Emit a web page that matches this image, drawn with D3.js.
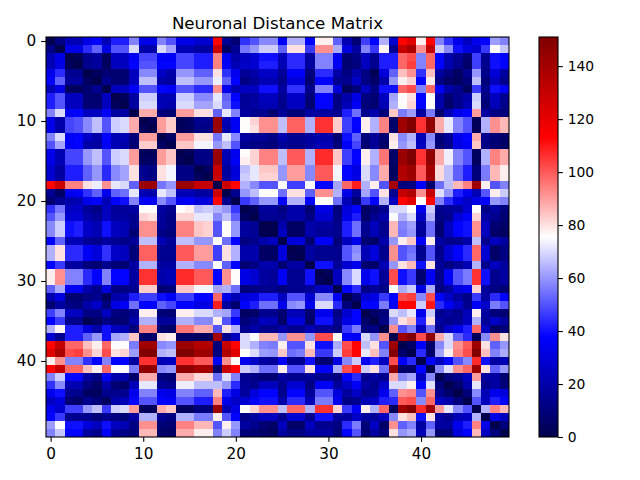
<!DOCTYPE html>
<html>
<head>
<meta charset="utf-8">
<script src="https://cdn.jsdelivr.net/npm/d3@7"></script>
<style>
  html, body { margin: 0; background: #fff; }
  text { font-family: "DejaVu Sans", sans-serif; fill: #000; }
</style>
</head>
<body>
<svg id="chart" width="640" height="480"></svg>
<script>
const title = "Neuronal Distance Matrix";
const axisTicks = [0, 10, 20, 30, 40];
const barTicks = [0, 20, 40, 60, 80, 100, 120, 140];
const barMax = 151;

// upper triangle of the matrix, each row starts on the diagonal
const upper = [
  [0,12,22,22,33,38,22,42,42,57,33,33,57,50,33,33,28,28,113,15,8,45,50,58,58,36,64,64,38,78,78,52,21,8,47,38,64,28,113,122,78,113,57,45,34,24,34,38,61,57],
  [0,32,32,44,52,32,50,50,70,20,20,70,62,22,22,18,18,128,5,15,55,60,68,68,52,80,80,46,92,92,63,31,18,57,46,77,15,130,138,92,130,68,58,40,31,28,46,75,67],
  [0,3,14,17,4,24,24,36,48,48,36,36,48,48,42,42,94,34,20,24,28,40,40,22,44,44,18,57,57,35,8,12,24,14,42,42,98,102,57,98,38,21,15,8,47,15,40,38],
  [0,14,17,4,24,24,38,50,50,38,38,48,48,42,42,94,36,22,26,28,42,42,22,44,44,18,57,57,35,8,10,24,14,42,42,98,104,57,98,38,21,14,6,47,14,40,38],
  [0,4,8,8,8,24,58,58,26,20,60,60,52,52,80,45,34,16,20,26,26,16,36,36,10,44,44,20,11,20,12,2,30,52,85,92,45,85,18,11,5,14,60,14,30,18],
  [0,14,8,8,24,66,66,20,18,66,66,60,60,73,52,38,12,16,22,22,14,30,30,8,38,38,14,14,26,12,6,20,60,78,82,38,78,12,6,4,10,66,10,24,14],
  [0,24,24,36,50,50,38,36,50,50,44,44,92,34,22,24,24,40,40,18,45,45,14,57,57,30,4,10,24,12,40,40,98,102,57,98,36,20,14,4,46,14,40,36],
  [0,3,18,68,68,22,22,68,68,58,58,72,52,38,16,18,24,24,15,26,26,9,38,38,12,20,32,11,8,24,62,75,80,38,75,20,8,14,20,68,11,24,15],
  [0,18,70,70,22,20,70,70,62,62,70,54,40,16,18,22,22,13,24,24,8,38,38,12,22,36,10,8,22,64,76,82,38,76,20,6,14,22,70,9,22,13],
  [0,88,88,10,8,90,90,80,80,52,72,57,18,14,14,8,16,10,10,18,18,18,14,42,54,14,20,10,84,56,61,18,56,7,22,34,38,90,18,12,10],
  [0,3,90,83,3,5,14,14,143,22,36,76,82,92,92,66,99,99,64,106,106,83,47,38,78,64,94,6,142,150,106,146,88,72,57,50,3,64,92,86],
  [0,90,83,3,5,12,12,143,20,36,76,80,92,92,66,99,99,64,106,106,83,47,38,78,64,94,6,142,151,106,146,88,72,57,50,3,64,92,86],
  [0,5,90,90,80,80,55,72,58,18,16,16,12,21,14,14,18,20,20,8,40,52,10,16,8,80,58,64,22,58,10,16,34,38,88,14,9,6],
  [0,84,84,74,74,60,66,50,14,12,12,10,16,14,14,18,22,22,10,36,48,8,16,6,78,60,66,24,60,8,14,32,36,84,12,8,5],
  [0,3,12,12,143,22,34,76,82,94,94,66,100,100,64,107,107,84,47,38,78,64,96,6,143,151,106,146,88,73,57,50,4,64,94,88],
  [0,12,12,143,22,36,78,82,94,94,66,100,100,64,107,107,84,47,38,78,64,96,6,143,151,106,146,88,73,57,50,4,64,94,88],
  [0,4,130,18,30,66,72,84,84,60,90,90,58,100,100,74,38,32,70,58,88,4,136,142,100,140,81,66,52,42,10,56,86,78],
  [0,130,18,30,68,72,82,82,60,90,90,58,100,100,74,38,32,70,58,88,4,136,142,100,140,81,66,52,42,10,56,86,78],
  [0,128,113,64,58,50,50,75,47,47,75,38,38,62,98,109,64,78,50,140,10,11,36,7,54,66,86,94,142,78,50,57],
  [0,14,60,66,76,76,54,80,80,52,92,92,64,32,18,62,50,80,14,130,136,92,130,71,60,42,34,22,50,78,68],
  [0,46,52,60,60,38,64,64,38,76,76,54,22,8,46,38,64,24,113,122,76,113,57,44,32,26,32,38,60,57],
  [0,4,17,17,11,20,20,8,32,32,10,30,38,5,10,14,70,70,76,34,68,14,16,18,28,76,12,18,10],
  [0,15,15,14,20,20,12,28,28,12,32,42,6,14,20,75,64,70,26,64,12,14,30,36,82,18,14,8],
  [0,1,20,5,5,20,18,18,14,42,54,14,24,14,86,57,61,18,54,8,24,38,40,92,24,8,6],
  [0,24,5,5,20,16,16,14,42,54,14,22,14,86,56,60,16,54,8,24,38,40,92,24,6,4],
  [0,30,30,8,36,36,10,24,34,8,6,20,60,78,84,36,78,18,14,14,20,66,14,24,18],
  [0,2,18,14,14,14,50,58,22,30,14,92,50,54,14,50,14,28,38,44,98,28,6,12],
  [0,18,14,14,14,50,60,22,30,14,92,50,56,14,50,14,28,38,44,98,28,6,12],
  [0,40,40,16,28,34,8,6,22,60,80,86,40,80,16,12,16,22,64,14,24,18],
  [0,3,24,58,70,34,40,16,102,40,46,8,36,14,36,50,56,106,40,14,18],
  [0,24,58,70,34,40,16,102,40,46,8,36,14,36,50,56,106,40,14,18],
  [0,36,44,12,16,12,76,63,68,32,63,11,17,30,34,82,17,12,9],
  [0,10,28,32,46,38,102,104,58,102,38,26,18,12,46,18,44,38],
  [0,38,38,56,36,113,113,68,110,44,36,26,14,36,26,56,50],
  [0,6,10,70,66,72,34,68,14,18,14,22,78,18,10,8],
  [0,12,60,80,85,42,80,18,14,16,24,64,16,26,18],
  [0,92,50,57,24,54,14,26,34,42,98,24,6,10],
  [0,142,150,102,146,88,70,52,44,3,58,92,80],
  [0,6,36,6,58,70,92,100,142,80,52,60],
  [0,44,6,62,78,94,102,150,85,57,63],
  [0,38,24,38,50,58,107,40,18,22],
  [0,58,71,92,98,142,80,52,60],
  [0,10,14,24,90,18,18,8],
  [0,7,20,72,14,18,10],
  [0,10,58,22,34,30],
  [0,50,24,42,38],
  [0,64,94,86],
  [0,32,24],
  [0,10],
  [0]
];

// matrix is symmetric so mirror the upper half
const cells = [];
upper.forEach((row, i) => {
  row.forEach((v, k) => {
    cells.push({ row: i, col: i + k, value: v });
    if (k > 0) cells.push({ row: i + k, col: i, value: v });
  });
});

const plot = { left: 46, right: 509, top: 37, bottom: 437 };
const bar = { left: 539, right: 558 };
const tickLen = 4.86;

const svg = d3.select("#chart");

// same stops as the seismic colormap
const color = d3.scaleLinear()
  .domain([0, 0.25, 0.5, 0.75, 1].map(d => d * barMax))
  .range(["#00004c", "#0000ff", "#ffffff", "#ff0000", "#7f0000"]);

const x = d3.scaleLinear().domain([-0.5, 49.5]).range([plot.left, plot.right]);
const y = d3.scaleLinear().domain([-0.5, 49.5]).range([plot.top, plot.bottom]);
const barY = d3.scaleLinear().domain([0, barMax]).range([plot.bottom, plot.top]);

svg.append("g")
  .attr("shape-rendering", "crispEdges")
  .selectAll("rect")
  .data(cells)
  .join("rect")
  .attr("x", d => x(d.col - 0.5))
  .attr("y", d => y(d.row - 0.5))
  .attr("width", x(1) - x(0) + 0.3)
  .attr("height", y(1) - y(0) + 0.3)
  .attr("fill", d => color(d.value));

const xAxis = svg.append("g")
  .attr("transform", `translate(0,${plot.bottom})`)
  .call(d3.axisBottom(x).tickValues(axisTicks).tickFormat(d3.format("d")).tickSize(tickLen).tickPadding(6));
const yAxis = svg.append("g")
  .attr("transform", `translate(${plot.left},0)`)
  .call(d3.axisLeft(y).tickValues(axisTicks).tickFormat(d3.format("d")).tickSize(tickLen).tickPadding(5));

[xAxis, yAxis].forEach(g => {
  g.select(".domain").remove();
  g.selectAll("text").style("font-size", "15.28px");
  g.selectAll("line").attr("stroke", "#000").attr("stroke-width", 1.1);
});

svg.append("rect")
  .attr("x", plot.left).attr("y", plot.top)
  .attr("width", plot.right - plot.left).attr("height", plot.bottom - plot.top)
  .attr("fill", "none").attr("stroke", "#000").attr("stroke-width", 1.1);

svg.append("text")
  .attr("x", (plot.left + plot.right) / 2)
  .attr("y", 29)
  .attr("text-anchor", "middle")
  .style("font-size", "16.67px")
  .text(title);

// colorbar
svg.append("g")
  .attr("shape-rendering", "crispEdges")
  .selectAll("rect")
  .data(d3.range(plot.top, plot.bottom))
  .join("rect")
  .attr("x", bar.left)
  .attr("y", d => d)
  .attr("width", bar.right - bar.left)
  .attr("height", 1.2)
  .attr("fill", d => color(barY.invert(d + 0.5)));

const barAxis = svg.append("g")
  .attr("transform", `translate(${bar.right},0)`)
  .call(d3.axisRight(barY).tickValues(barTicks).tickFormat(d3.format("d")).tickSize(tickLen).tickPadding(4.86));
barAxis.select(".domain").remove();
barAxis.selectAll("text").style("font-size", "13.89px");
barAxis.selectAll("line").attr("stroke", "#000").attr("stroke-width", 1.1);

svg.append("rect")
  .attr("x", bar.left).attr("y", plot.top)
  .attr("width", bar.right - bar.left).attr("height", plot.bottom - plot.top)
  .attr("fill", "none").attr("stroke", "#000").attr("stroke-width", 1.1);
</script>
</body>
</html>
